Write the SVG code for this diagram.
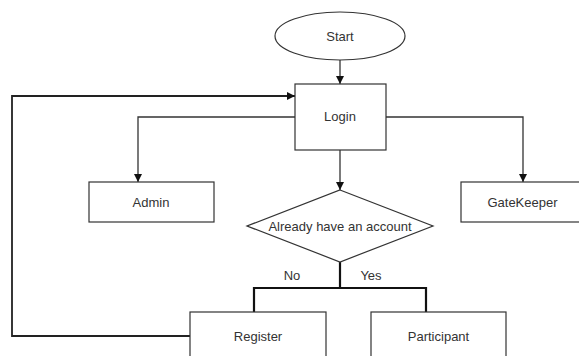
<svg xmlns="http://www.w3.org/2000/svg" width="579" height="356" viewBox="0 0 579 356">
<style>
.shape{fill:#fff;stroke:#333;stroke-width:1.2}
.lbl{font-family:"Liberation Sans",Arial,sans-serif;font-size:13px;fill:#333;text-anchor:middle}
.conn{fill:none;stroke:#333;stroke-width:1.3}
.thick{fill:none;stroke:#111;stroke-width:2.2}
.loop{fill:none;stroke:#222;stroke-width:1.8}
</style>
<defs>
<marker id="arr" viewBox="0 0 10 10" refX="10" refY="5" markerWidth="8" markerHeight="8" markerUnits="userSpaceOnUse" orient="auto">
<path d="M0,0 L10,5 L0,10 Z" fill="#111"/>
</marker>
</defs>
<rect width="579" height="356" fill="#fff"/>
<g id="connectors">
<path class="conn" d="M340,60 V84" marker-end="url(#arr)"/>
<path class="conn" d="M295,117 H138 V182" marker-end="url(#arr)"/>
<path class="conn" d="M386,117 H523 V182" marker-end="url(#arr)"/>
<path class="conn" d="M340,150 V190" marker-end="url(#arr)"/>
<path class="loop" d="M190,336 H12 V96 H295" marker-end="url(#arr)"/>
<path class="thick" d="M340,262 V288"/>
<path class="thick" d="M254,312 V288 H426 V312"/>
</g>
<g id="start">
<ellipse class="shape" cx="340" cy="36" rx="65" ry="24"/>
<text class="lbl" x="340" y="40.5">Start</text>
</g>
<g id="login">
<rect class="shape" x="295" y="84" width="91" height="66"/>
<text class="lbl" x="340" y="121">Login</text>
</g>
<g id="admin">
<rect class="shape" x="89" y="182" width="125" height="40"/>
<text class="lbl" x="151" y="206.5">Admin</text>
</g>
<g id="gatekeeper">
<rect class="shape" x="461" y="182" width="125" height="40"/>
<text class="lbl" x="522.5" y="206.5">GateKeeper</text>
</g>
<g id="decision">
<polygon class="shape" points="340,190 433,226 340,262 247,226"/>
<text class="lbl" x="340" y="230.5">Already have an account</text>
</g>
<g id="labels">
<text class="lbl" x="292" y="279.5">No</text>
<text class="lbl" x="371" y="279.5">Yes</text>
</g>
<g id="register">
<rect class="shape" x="190" y="312" width="136" height="60"/>
<text class="lbl" x="258" y="340.5">Register</text>
</g>
<g id="participant">
<rect class="shape" x="371" y="312" width="135" height="60"/>
<text class="lbl" x="438.5" y="340.5">Participant</text>
</g>
</svg>
